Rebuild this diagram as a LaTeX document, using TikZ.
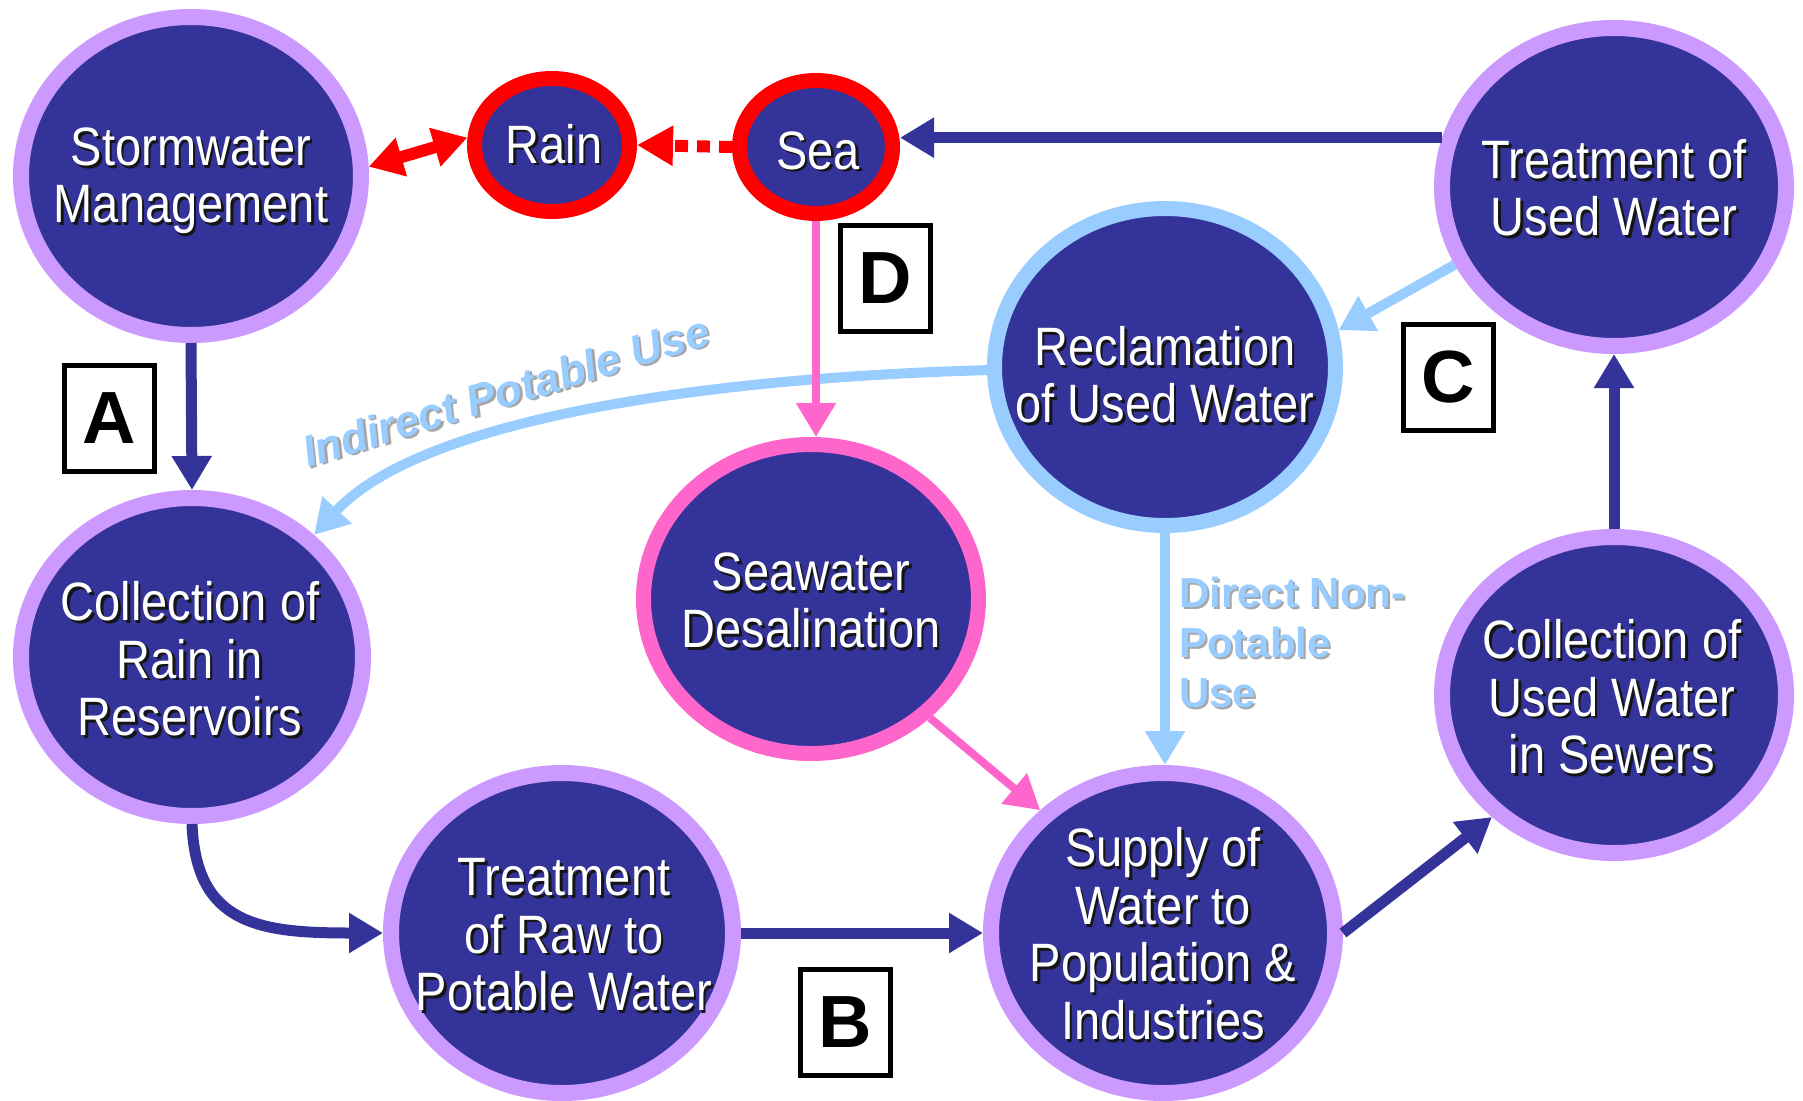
\documentclass[tikz,border=0pt]{standalone}
\usepackage{fontspec}
\setmainfont{Liberation Sans}
\usepackage{graphicx}
\usetikzlibrary{shapes.geometric,arrows.meta}
\definecolor{navy}{HTML}{333399}
\definecolor{lav}{HTML}{CC99FF}
\definecolor{rd}{HTML}{FF0000}
\definecolor{pk}{HTML}{FF66CC}
\definecolor{lb}{HTML}{99CCFF}
\definecolor{shd}{HTML}{151515}
\newcommand\tb[1]{\begin{tabular}{@{}c@{}}#1\end{tabular}}
\newcommand\tbl[1]{\begin{tabular}{@{}l@{}}#1\end{tabular}}
\newcommand\shtxt[1]{\scalebox{1}[1.15]{\rlap{\kern2.5pt\raisebox{-2.5pt}{\color{shd}\tb{#1}}}\tb{#1}}}
\newcommand\shlbl[1]{\rlap{\kern2pt\raisebox{-2pt}{\color{gray!70}\tbl{#1}}}\tbl{#1}}
\begin{document}
\begin{tikzpicture}[x=1pt,y=-1pt,
  bub/.style={ellipse, fill=navy, inner sep=0pt},
  pur/.style={bub, draw=lav, line width=16pt},
  txt/.style={text=white, font=\fontsize{47}{50}\selectfont, inner sep=0pt, yshift=-8pt},
  lbox/.style={draw=black, line width=5pt, fill=white, minimum width=90pt, minimum height=106pt, inner sep=0pt, font=\fontsize{74}{74}\selectfont\bfseries},
  nav/.style={draw=navy, line width=11pt, -{Triangle[length=34pt,width=38pt]}},
  pka/.style={draw=pk, line width=8pt, -{Triangle[length=34pt,width=38pt]}},
  lba/.style={draw=lb, line width=10pt, -{Triangle[length=34pt,width=38pt]}},
  rda/.style={draw=rd, line width=12pt}
]
\useasboundingbox (0,0) rectangle (1803,1100);

% bubbles
\node[pur, minimum width=340pt, minimum height=318pt] (storm) at (191,176) {};
\node[bub, draw=rd, line width=15pt, minimum width=155pt, minimum height=133pt] (rain) at (552,145) {};
\node[bub, draw=rd, line width=15pt, minimum width=153pt, minimum height=133pt] (sea) at (816,147) {};
\node[pur, minimum width=344pt, minimum height=318pt] (tused) at (1614,187) {};
\node[bub, draw=lb, line width=15pt, minimum width=341pt, minimum height=317pt] (recl) at (1165,367) {};
\node[bub, draw=pk, line width=15pt, minimum width=335pt, minimum height=309pt] (desal) at (811,599) {};
\node[pur, minimum width=342pt, minimum height=318pt] (res) at (192,657) {};
\node[pur, minimum width=342pt, minimum height=320pt] (raw) at (562,933) {};
\node[pur, minimum width=344pt, minimum height=320pt] (supply) at (1163,933) {};
\node[pur, minimum width=344pt, minimum height=316pt] (sewers) at (1614,695) {};

% texts
\node[txt] (storm-t) at (191,176) {\shtxt{Stormwater\\Management}};
\node[txt] (rain-t) at (554,145) {\shtxt{Rain}};
\node[txt] (sea-t) at (818,151) {\shtxt{Sea}};
\node[txt] (tused-t) at (1614,189) {\shtxt{Treatment of\\Used Water}};
\node[txt] (recl-t) at (1165,376) {\shtxt{Reclamation\\of Used Water}};
\node[txt] (desal-t) at (811,601) {\shtxt{Seawater\\Desalination}};
\node[txt] (res-t) at (190,660) {\shtxt{Collection of\\Rain in\\Reservoirs}};
\node[txt] (raw-t) at (564,935) {\shtxt{Treatment\\of Raw to\\Potable Water}};
\node[txt] (supply-t) at (1163,935) {\shtxt{Supply of\\Water to\\Population \&\\Industries}};
\node[txt] (sewers-t) at (1612,698) {\shtxt{Collection of\\Used Water\\in Sewers}};

% letter boxes
\node[lbox] (A) at (109,418) {A};
\node[lbox] (B) at (845,1022) {B};
\node[lbox] (C) at (1448,377) {C};
\node[lbox] (D) at (885,278) {D};

% connectors
\draw[rda, {Triangle[length=34pt,width=38pt]}-{Triangle[length=34pt,width=38pt]}] (storm.3) -- (rain.175);
\draw[rda, dash pattern=on 13pt off 9pt, -{Triangle[length=36pt,width=38pt]}] (sea.west) -- (rain.east);
\draw[nav] (tused.164) -- (sea.east |- tused.164);
\draw[lba] (tused.206) -- (recl.12);
\draw[lba] (recl.181) .. controls (700,378) and (420,420) .. (res.45);
\draw[pka] (sea.south) -- (sea.south |- desal.north);
\draw[lba] (recl.south) -- (recl.south |- supply.north);
\draw[pka] (desal.-45) -- (supply.135);
\draw[nav] (storm.south) -- (res.north);
\draw[nav] (res.south) .. controls (196,925) and (260,933) .. (raw.west);
\draw[nav] (raw.east) -- (supply.west);
\draw[nav] (supply.east) -- (sewers.225);
\draw[nav] (sewers.north) -- (tused.south);

% edge labels
\node[text=lb, rotate=17, inner sep=0pt, font=\fontsize{44}{44}\selectfont\bfseries\itshape] (ipu) at (508,398) {\shlbl{Indirect Potable Use}};
\node[text=lb, anchor=north west, inner sep=0pt, font=\fontsize{42}{50}\selectfont\bfseries] (dnpu) at (1179,572) {\shlbl{Direct Non-\\Potable\\Use}};
\end{tikzpicture}
\end{document}
